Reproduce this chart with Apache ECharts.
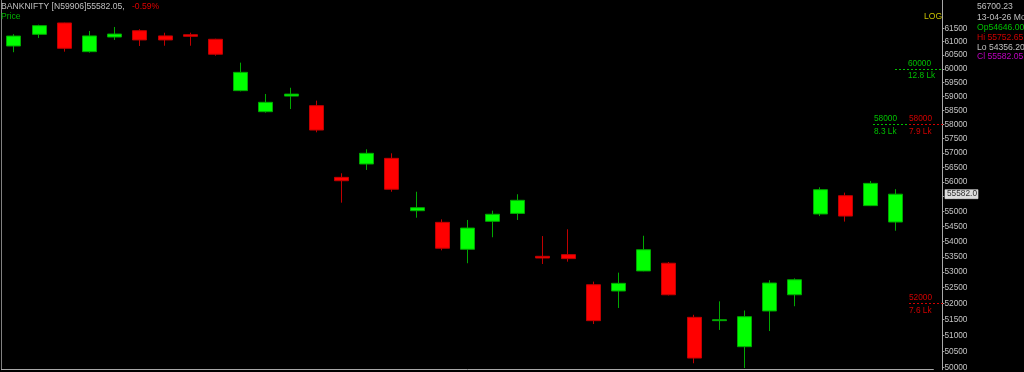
<!DOCTYPE html>
<html><head><meta charset="utf-8">
<script src="https://cdn.jsdelivr.net/npm/echarts@6/dist/echarts.min.js"></script>
<style>html,body{margin:0;padding:0;background:#000;overflow:hidden}#c{width:1024px;height:372px}</style>
</head><body><div id="c"></div><script>
// ---- data (prices) ----
const categories = ['C1','C2','C3','C4','C5','C6','C7','C8','C9','C10','C11','C12','C13','C14','C15','C16','C17','C18',
  'C19','C20','C21','C22','C23','C24','C25','C26','C27','C28','C29','C30','C31','C32','C33','C34','C35','13-04-26',''];
const openP  = [60840,61275,61700,60630,61175,61410,61215,61260,61090,59205,58450,59010,58665,56155,56615,56810,55025,54635,
  53745,54670,54935,53515,53570,52595,52395,53040,53290,51560,51455,50645,51760,52275,54915,55530,55195,54646.00];
const closeP = [61210,61600,60755,61215,61285,61065,61065,61200,60535,59870,58785,59080,57800,56040,56985,55750,55125,53780,
  54445,54905,55375,53460,53440,51455,52640,53730,52275,50295,51485,51580,52650,52755,55735,54845,55950,55582.05];
const lowP   = [60610,61140,60630,60595,61065,60840,60850,60850,60480,59180,58415,58545,57720,55295,56410,55665,54790,53710,
  53290,54140,54715,53265,53340,51350,51855,53030,52255,50135,51165,49990,51130,51910,54845,54660,55180,54356.20];
const highP  = [61280,61635,61710,61400,61550,61465,61335,61335,61110,60225,59085,59310,58845,56295,57125,56985,55665,54735,
  54715,55025,55580,54180,54405,52695,52985,54190,53330,51640,52065,51775,52740,52800,55815,55635,56030,55752.65];
const tickValues = [50000,50500,51000,51500,52000,52500,53000,53500,54000,54500,55000,55500,56000,56500,57000,57500,
  58000,58500,59000,59500,60000,60500,61000,61500];
const oiLevels = [60000, 58000, 58000, 52000];
const oiAmounts = ['12.8 Lk', '8.3 Lk', '7.9 Lk', '7.6 Lk'];
const headerText = 'BANKNIFTY [N59906]55582.05,';
const changeText = '-0.59%';
const cursorValue = '56700.23';
const cursorDate = '13-04-26 Mo';
const lastPriceLabel = '55582.0';

// ---- presentation ----
const L = v => Math.log(v);
const yMin = 49939, yMax = 62571;
const FONT = 'Liberation Sans';
const GREEN = '#00c000', RED = '#d00000';
const oiStyle = [
  {color: GREEN, startX: 895, dx: 13},
  {color: GREEN, startX: 873, dx: 1},
  {color: RED,   startX: 909, dx: 0},
  {color: RED,   startX: 909, dx: 0}
];
const last = openP.length - 1;

const markLines = [];
oiLevels.forEach((lvl, i) => {
  const st = oiStyle[i];
  const base = {x: st.startX, yAxis: L(lvl), lineStyle: {color: st.color, type: [2, 2], width: 1}};
  markLines.push([
    Object.assign({}, base, {label: {show: true, position: 'insideStartTop', distance: [st.dx, 1.5],
      formatter: String(lvl), color: st.color, fontSize: 8.3, fontFamily: FONT}}),
    {x: 943, yAxis: L(lvl)}
  ]);
  markLines.push([
    Object.assign({}, base, {label: {show: true, position: 'insideStartBottom', distance: [st.dx, 3],
      formatter: oiAmounts[i], color: st.color, fontSize: 8.3, fontFamily: FONT}}),
    {x: 943, yAxis: L(lvl)}
  ]);
});
markLines.push([
  {x: 941, yAxis: L(closeP[last]), lineStyle: {color: 'rgba(0,0,0,0)', width: 1, type: 'solid'},
   label: {show: true, position: 'end', distance: 2, formatter: lastPriceLabel, color: '#303030',
     backgroundColor: '#dcdcdc', borderColor: '#8c8c8c', borderWidth: 0.5, padding: [1, 1, 0, 2],
     fontSize: 8.3, fontFamily: FONT}},
  {x: 943, yAxis: L(closeP[last])}
]);

const infoLines = [
  {t: cursorValue, c: '#c0c0c0'},
  {t: cursorDate, c: '#c0c0c0'},
  {t: 'Op' + openP[last].toFixed(2), c: GREEN},
  {t: 'Hi ' + highP[last].toFixed(2), c: RED},
  {t: 'Lo ' + lowP[last].toFixed(2), c: '#c0c0c0'},
  {t: 'Cl ' + closeP[last].toFixed(2), c: '#c000c0'}
];
const infoY = [7, 17.3, 27.3, 37.7, 47.7, 56.7];
const txt = (x, y, t, c) => ({type: 'text', x: x, y: y, z: 100,
  style: {text: t, fill: c, font: '8.6px "' + FONT + '"', verticalAlign: 'middle', align: 'left'}});
const graphics = [
  txt(1, 7, headerText, '#c0c0c0'),
  txt(132, 7, changeText, '#e00000'),
  txt(1, 17, 'Price', '#00b400'),
  txt(924, 17, 'LOG', '#c8c000')
];
infoLines.forEach((l, i) => graphics.push(txt(977, infoY[i], l.t, l.c)));

const chart = echarts.init(document.getElementById('c'), null, {renderer: 'canvas'});
chart.setOption({
  backgroundColor: '#000',
  animation: false,
  grid: {left: 1.4, right: 90.6, top: 0, bottom: 2.3, containLabel: false},
  xAxis: {type: 'category', data: categories, boundaryGap: true,
    axisLine: {show: true, onZero: false, lineStyle: {color: '#a8a8a8'}},
    axisTick: {show: false}, axisLabel: {show: false}, splitLine: {show: false}},
  yAxis: [{
    type: 'value', position: 'right', offset: 9, min: L(yMin), max: L(yMax),
    splitLine: {show: false},
    axisLine: {show: true, onZero: false, lineStyle: {color: '#a8a8a8'}},
    axisTick: {show: true, length: 2, lineStyle: {color: '#a8a8a8'}, customValues: tickValues.map(L)},
    axisLabel: {show: true, customValues: tickValues.map(L), margin: 2,
      formatter: v => String(Math.round(Math.exp(v))), color: '#c4c4c4', fontSize: 8.3, fontFamily: FONT}
  }, {
    type: 'value', position: 'left', min: L(yMin), max: L(yMax),
    splitLine: {show: false}, axisTick: {show: false}, axisLabel: {show: false},
    axisLine: {show: true, onZero: false, lineStyle: {color: '#808080'}}
  }],
  graphic: graphics,
  series: [{
    type: 'candlestick',
    data: openP.map((o, i) => [L(o), L(closeP[i]), L(lowP[i]), L(highP[i])]),
    barWidth: 14.5,
    itemStyle: {color: '#00ff00', color0: '#ff0000', borderColor: '#00a800', borderColor0: '#c00000', borderWidth: 1},
    markLine: {symbol: 'none', silent: true, animation: false, data: markLines}
  }]
});
</script></body></html>
